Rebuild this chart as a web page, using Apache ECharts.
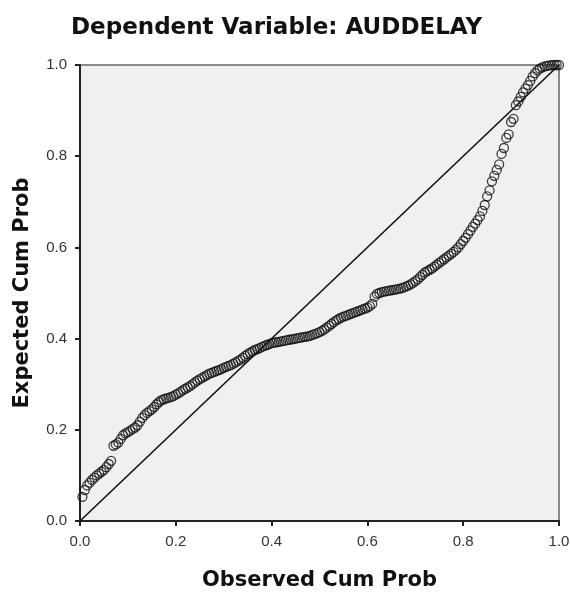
<!DOCTYPE html>
<html>
<head>
<meta charset="utf-8">
<script src="https://cdn.jsdelivr.net/npm/echarts@6/dist/echarts.min.js"></script>
<style>
  html, body { margin: 0; padding: 0; background: #fff; }
  #chart { width: 570px; height: 592px; }
</style>
</head>
<body>
<div id="chart"></div>
<script>
// observed cumulative probability (x) and expected cumulative probability (y)
const observed = [
  0.005, 0.010, 0.015, 0.020, 0.025, 0.030, 0.035, 0.040, 0.045, 0.050,
  0.055, 0.060, 0.065, 0.070, 0.075, 0.080, 0.085, 0.090, 0.095, 0.100,
  0.105, 0.110, 0.115, 0.120, 0.125, 0.130, 0.135, 0.140, 0.145, 0.150,
  0.155, 0.160, 0.165, 0.170, 0.175, 0.180, 0.185, 0.190, 0.195, 0.200,
  0.205, 0.210, 0.215, 0.220, 0.225, 0.230, 0.235, 0.240, 0.245, 0.250,
  0.255, 0.260, 0.265, 0.270, 0.275, 0.280, 0.285, 0.290, 0.295, 0.300,
  0.305, 0.310, 0.315, 0.320, 0.325, 0.330, 0.335, 0.340, 0.345, 0.350,
  0.355, 0.360, 0.365, 0.370, 0.375, 0.380, 0.385, 0.390, 0.395, 0.400,
  0.405, 0.410, 0.415, 0.420, 0.425, 0.430, 0.435, 0.440, 0.445, 0.450,
  0.455, 0.460, 0.465, 0.470, 0.475, 0.480, 0.485, 0.490, 0.495, 0.500,
  0.505, 0.510, 0.515, 0.520, 0.525, 0.530, 0.535, 0.540, 0.545, 0.550,
  0.555, 0.560, 0.565, 0.570, 0.575, 0.580, 0.585, 0.590, 0.595, 0.600,
  0.605, 0.610, 0.615, 0.620, 0.625, 0.630, 0.635, 0.640, 0.645, 0.650,
  0.655, 0.660, 0.665, 0.670, 0.675, 0.680, 0.685, 0.690, 0.695, 0.700,
  0.705, 0.710, 0.715, 0.720, 0.725, 0.730, 0.735, 0.740, 0.745, 0.750,
  0.755, 0.760, 0.765, 0.770, 0.775, 0.780, 0.785, 0.790, 0.795, 0.800,
  0.805, 0.810, 0.815, 0.820, 0.825, 0.830, 0.835, 0.840, 0.845, 0.850,
  0.855, 0.860, 0.865, 0.870, 0.875, 0.880, 0.885, 0.890, 0.895, 0.900,
  0.905, 0.910, 0.915, 0.920, 0.925, 0.930, 0.935, 0.940, 0.945, 0.950,
  0.955, 0.960, 0.965, 0.970, 0.975, 0.980, 0.985, 0.990, 0.995, 1.000
];

const expected = [
  0.053, 0.068, 0.078, 0.084, 0.090, 0.095, 0.100, 0.104, 0.108, 0.112,
  0.118, 0.125, 0.132, 0.165, 0.168, 0.172, 0.180, 0.188, 0.192, 0.195,
  0.198, 0.202, 0.205, 0.210, 0.218, 0.226, 0.232, 0.237, 0.241, 0.245,
  0.250, 0.256, 0.261, 0.265, 0.267, 0.269, 0.270, 0.272, 0.274, 0.277,
  0.280, 0.283, 0.287, 0.290, 0.293, 0.296, 0.300, 0.304, 0.308, 0.311,
  0.314, 0.317, 0.320, 0.323, 0.325, 0.327, 0.329, 0.331, 0.333, 0.336,
  0.338, 0.340, 0.342, 0.345, 0.348, 0.351, 0.354, 0.358, 0.362, 0.366,
  0.369, 0.372, 0.375, 0.377, 0.379, 0.382, 0.384, 0.386, 0.388, 0.390,
  0.391, 0.392, 0.393, 0.394, 0.395, 0.396, 0.397, 0.398, 0.399, 0.400,
  0.401, 0.402, 0.403, 0.404, 0.405, 0.406, 0.408, 0.410, 0.412, 0.414,
  0.417, 0.420, 0.424, 0.428, 0.432, 0.436, 0.440, 0.443, 0.446, 0.448,
  0.450, 0.452, 0.454, 0.456, 0.458, 0.460, 0.462, 0.464, 0.466, 0.468,
  0.471, 0.476, 0.492, 0.498, 0.500, 0.502, 0.503, 0.504, 0.505, 0.506,
  0.507, 0.508, 0.509, 0.510, 0.512, 0.514, 0.516, 0.519, 0.522, 0.526,
  0.530, 0.535, 0.540, 0.545, 0.548, 0.551, 0.554, 0.558, 0.562, 0.566,
  0.570, 0.574, 0.578, 0.582, 0.586, 0.590, 0.595, 0.600, 0.607, 0.614,
  0.621, 0.629, 0.637, 0.645, 0.652, 0.660, 0.668, 0.680, 0.693, 0.712,
  0.725, 0.745, 0.757, 0.770, 0.782, 0.805, 0.818, 0.840, 0.848, 0.875,
  0.882, 0.912, 0.920, 0.930, 0.940, 0.948, 0.956, 0.965, 0.975, 0.982,
  0.988, 0.992, 0.995, 0.997, 0.998, 0.999, 0.9995, 1.000, 1.000, 1.000
];

// reference diagonal
const refLineX = [0, 1];
const refLineY = [0, 1];

const titleText = 'Dependent Variable: AUDDELAY';
const xName = 'Observed Cum Prob';
const yName = 'Expected Cum Prob';

const points = observed.map((x, i) => [x, expected[i]]);
const diag = refLineX.map((x, i) => [x, refLineY[i]]);

const chart = echarts.init(document.getElementById('chart'), null, { renderer: 'canvas' });

const axisCommon = {
  type: 'value',
  min: 0,
  max: 1,
  interval: 0.2,
  splitLine: { show: false },
  axisLine: { show: true, onZero: false, lineStyle: { color: '#222', width: 2 } },
  axisTick: { show: true, inside: false, length: 5, lineStyle: { color: '#222', width: 2 } },
  axisLabel: {
    color: '#333',
    fontSize: 15,
    fontFamily: 'Liberation Sans, Arial, sans-serif',
    formatter: v => v.toFixed(1)
  },
  nameLocation: 'middle',
  nameTextStyle: {
    color: '#111',
    fontSize: 21,
    fontWeight: 'bold',
    fontFamily: 'DejaVu Sans, sans-serif'
  }
};

chart.setOption({
  animation: false,
  backgroundColor: '#fff',
  title: {
    text: titleText,
    left: 66,
    top: 12,
    textStyle: {
      color: '#111',
      fontSize: 23,
      fontWeight: 'bold',
      fontFamily: 'DejaVu Sans, sans-serif'
    }
  },
  grid: {
    left: 80,
    right: 11,
    top: 65,
    bottom: 71,
    outerBoundsMode: 'none',
    containLabel: false,
    show: true,
    backgroundColor: '#f0f0f0',
    borderColor: '#8a8a8a',
    borderWidth: 2
  },
  xAxis: Object.assign({}, axisCommon, {
    name: xName,
    nameGap: 49,
    axisLabel: Object.assign({}, axisCommon.axisLabel, { margin: 13 })
  }),
  yAxis: Object.assign({}, axisCommon, {
    name: yName,
    nameGap: 47,
    nameRotate: 90,
    axisLabel: Object.assign({}, axisCommon.axisLabel, { margin: 13 })
  }),
  series: [
    {
      type: 'line',
      data: diag,
      symbol: 'none',
      lineStyle: { color: '#111', width: 1.6 },
      z: 2
    },
    {
      type: 'scatter',
      data: points,
      symbol: 'circle',
      symbolSize: 9,
      itemStyle: { color: 'transparent', borderColor: '#111', borderWidth: 1.3 },
      z: 3
    }
  ]
});
</script>
</body>
</html>
